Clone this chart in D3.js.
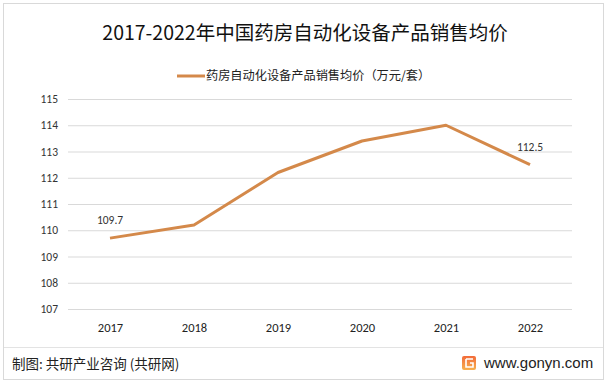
<!DOCTYPE html>
<html><head><meta charset="utf-8">
<script src="https://cdn.jsdelivr.net/npm/d3@7"></script>
<style>body{margin:0;background:#fff;}svg{display:block;font-family:"Microsoft YaHei","Noto Sans CJK SC",sans-serif;}</style>
</head><body>
<script>
const title = "2017-2022年中国药房自动化设备产品销售均价";
const seriesName = "药房自动化设备产品销售均价（万元/套）";
const years = ["2017","2018","2019","2020","2021","2022"];
const values = [109.7, 110.2, 112.2, 113.4, 114.0, 112.5];
const yTicks = [107,108,109,110,111,112,113,114,115];
const labeledIdx = [0, 5];

const W=611,H=384;
const svg=d3.select("body").append("svg").attr("width",W).attr("height",H);
svg.append("rect").attr("x",3.5).attr("y",3.5).attr("width",600).attr("height",376).attr("fill","#fff").attr("stroke","#d9d9d9");

const x=d3.scalePoint().domain(years).range([68,572]).padding(0.5);
const y=d3.scaleLinear().domain([107,115]).range([309,99]);

svg.append("text").attr("x",305).attr("y",40).attr("text-anchor","middle").attr("font-size",19.5).attr("fill","#111").text(title);

// legend
svg.append("line").attr("x1",177).attr("x2",205).attr("y1",76).attr("y2",76).attr("stroke","#D4894A").attr("stroke-width",3);
svg.append("text").attr("x",206).attr("y",80).attr("font-size",12.2).attr("fill","#222").text(seriesName);

// grid
const yAxis=d3.axisLeft(y).tickValues(yTicks).tickSize(-(572-68)).tickFormat(d3.format("d"));
const gy=svg.append("g").attr("transform","translate(68,0)").call(yAxis);
gy.select(".domain").remove();
gy.selectAll(".tick line").attr("stroke","#d9d9d9");
gy.selectAll(".tick text").attr("x",-10).attr("font-size",11.5).attr("fill","#333").attr("font-family","Calibri,'Liberation Sans',sans-serif");

const xAxis=d3.axisBottom(x).tickSize(0);
const gx=svg.append("g").attr("transform","translate(0,309)").call(xAxis);
gx.select(".domain").remove();
gx.selectAll(".tick text").attr("dy",0).attr("y",23).attr("font-size",12.5).attr("fill","#222").attr("font-family","Calibri,'Liberation Sans',sans-serif");

const line=d3.line().x((d,i)=>x(years[i])).y(d=>y(d));
svg.append("path").datum(values).attr("d",line).attr("fill","none").attr("stroke","#D4894A").attr("stroke-width",3).attr("stroke-linejoin","round");

svg.selectAll(".lbl").data(labeledIdx).enter().append("text")
 .attr("x",i=>x(years[i])).attr("y",i=>y(values[i])-14).attr("text-anchor","middle")
 .attr("font-size",11.5).attr("fill","#333").attr("font-family","Calibri,'Liberation Sans',sans-serif")
 .text(i=>values[i].toFixed(1));

// footer
svg.append("line").attr("x1",4).attr("x2",603).attr("y1",347.5).attr("y2",347.5).attr("stroke","#e3e3e3");
svg.append("text").attr("x",12).attr("y",369).attr("font-size",13.5).attr("fill","#222").text("制图: 共研产业咨询 (共研网)");
const grad=svg.append("defs").append("linearGradient").attr("id","lg").attr("x1",0).attr("y1",0).attr("x2",0).attr("y2",1);
grad.append("stop").attr("offset",0).attr("stop-color","#F26B3A");
grad.append("stop").attr("offset",1).attr("stop-color","#F7B04E");
svg.append("rect").attr("x",462).attr("y",356).attr("width",14).attr("height",14).attr("rx",2).attr("fill","url(#lg)");
svg.append("path").attr("d","M466,359 H473 M466,359 V367 H473 V363 H470").attr("fill","none").attr("stroke","#fff").attr("stroke-width",1.6);
svg.append("text").attr("x",484).attr("y",368).attr("font-size",15).attr("fill","#222").attr("font-family","'Liberation Sans',Arial,sans-serif").text("www.gonyn.com");
</script>
</body></html>
